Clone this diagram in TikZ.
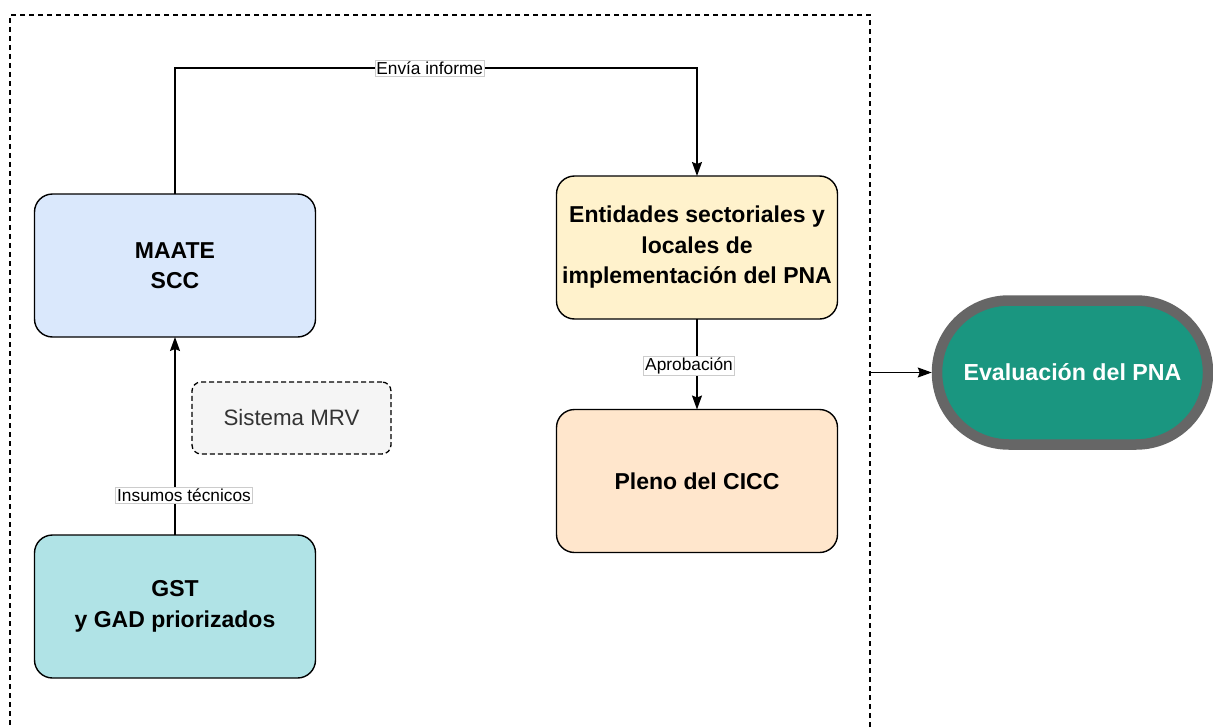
\documentclass[tikz,border=0pt]{standalone}
\usepackage{fontspec}
\setmainfont{Liberation Sans}
\usetikzlibrary{arrows.meta,calc}
\definecolor{cBlue}{HTML}{DAE8FC}
\definecolor{cYellow}{HTML}{FFF2CC}
\definecolor{cOrange}{HTML}{FFE6CC}
\definecolor{cTeal}{HTML}{B0E3E6}
\definecolor{cGrayFill}{HTML}{F5F5F5}
\definecolor{cGrayText}{HTML}{333333}
\definecolor{cGreen}{HTML}{1A9680}
\definecolor{cBorder}{HTML}{666666}
\tikzset{
  box/.style={draw=black, line width=1.4pt, rounded corners=18pt, minimum width=281pt,
    minimum height=143pt, inner sep=0pt, align=center, outer sep=0pt,
    font=\fontsize{23}{30.5}\selectfont\bfseries},
  mrvbox/.style={draw=black, line width=1.3pt, dash pattern=on 5pt off 3pt, rounded corners=9pt,
    fill=cGrayFill, minimum width=199pt, minimum height=72pt, inner sep=0pt, outer sep=0pt,
    text=cGrayText, font=\fontsize{22.3}{26}\selectfont},
  container/.style={draw=black, line width=1.3pt, dash pattern=on 5pt off 4pt,
    minimum width=860pt, minimum height=716pt, inner sep=0pt, outer sep=0pt},
  evalnode/.style={draw=cBorder, line width=10.5pt, fill=cGreen, rounded corners=71.9pt,
    minimum width=271pt, minimum height=144pt, inner sep=0pt, text=white,
    font=\fontsize{23.2}{27}\selectfont\bfseries},
  lbl/.style={fill=white, draw=black!20, line width=0.6pt, inner sep=1.5pt,
    font=\fontsize{17.3}{20}\selectfont, text=black},
  arr/.style={line width=1.4pt, -{Stealth[length=14pt,width=10pt,inset=2pt]}},
}
\begin{document}
\begin{tikzpicture}[x=1pt,y=-1pt]
\useasboundingbox (0,0) rectangle (1213,728);
\node[container] (cont) at (440,373) {};
\node[box, fill=cBlue] (maate) at (175,265.5) {MAATE\\SCC};
\node[box, fill=cTeal] (gst) at (175,606.5) {GST\\y GAD priorizados};
\node[box, fill=cYellow] (ent) at (697,247.5) {Entidades sectoriales y\\locales de\\implementación del PNA};
\node[box, fill=cOrange] (pleno) at (697,481) {Pleno del CICC};
\node[mrvbox] (mrv) at (291.5,418) {Sistema MRV};
\node[evalnode] (eval) at (1072.5,372.5) {Evaluación del PNA};
\path (0,68) coordinate (ylevel);
\coordinate (tl) at (maate.north |- ylevel);
\draw[arr] (maate.north) -- (tl) -| node[lbl, pos=0.244] {Envía informe} (ent.north);
\draw[arr] (gst.north) -- node[lbl, pos=0.2, xshift=9pt] {Insumos técnicos} (maate.south);
\draw[arr] (ent.south) -- node[lbl, pos=0.52, xshift=-8pt] {Aprobación} (pleno.north);
\draw[arr] (cont.east |- eval.west) -- (eval.west);
\end{tikzpicture}
\end{document}
